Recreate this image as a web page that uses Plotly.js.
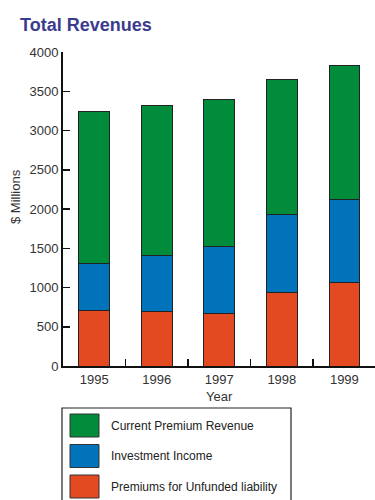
<!DOCTYPE html>
<html>
<head>
<meta charset="utf-8">
<script src="https://cdn.plot.ly/plotly-3.0.1.min.js"></script>
<style>html,body{margin:0;padding:0;background:#fff;}#chart{width:375px;height:500px;}</style>
</head>
<body>
<div id="chart"></div>
<script>
// ---- data ----
const years = ["1995", "1996", "1997", "1998", "1999"];
const unfundedLiability = [704, 700, 671, 939, 1066];
const investmentIncome = [599, 714, 849, 993, 1061];
const currentPremium = [1945, 1907, 1877, 1716, 1707];
const seriesNames = ["Premiums for Unfunded liability", "Investment Income", "Current Premium Revenue"];
const seriesColors = ["#E34A21", "#0073BB", "#008C3A"];
const yTicks = [0, 500, 1000, 1500, 2000, 2500, 3000, 3500, 4000];

// ---- geometry ----
const W = 375, H = 500;
const M = {l: 63, r: 0, t: 52, b: 134};
const pw = W - M.l - M.r, ph = H - M.t - M.b;
const px = x => (x - M.l) / pw;          // pixel x -> paper
const py = y => (H - M.b - y) / ph;      // pixel y -> paper

const font = "Liberation Sans, Arial, sans-serif";
const seriesValues = [unfundedLiability, investmentIncome, currentPremium];

const traces = seriesValues.map((vals, i) => ({
  type: "bar",
  x: years,
  y: vals,
  name: seriesNames[i],
  marker: {color: seriesColors[i], line: {color: "#222", width: 1}},
  width: 0.49,
  hoverinfo: "skip"
}));

// manual legend (top to bottom order as in reference)
const legendOrder = [2, 1, 0];
const shapes = [{
  type: "rect", xref: "paper", yref: "paper",
  x0: px(62), x1: px(291), y0: py(408), y1: py(503),
  line: {color: "#222", width: 1.2}, fillcolor: "rgba(0,0,0,0)"
}];
const annotations = [
  {xref: "paper", yref: "paper", x: 0.5, y: py(396), text: "Year", showarrow: false,
   xanchor: "center", yanchor: "middle", font: {family: font, size: 13, color: "#333"}},
  {xref: "paper", yref: "paper", x: px(15), y: py(197), text: "$ Millions", showarrow: false,
   textangle: -90, xanchor: "center", yanchor: "middle", font: {family: font, size: 13, color: "#333"}}
];
legendOrder.forEach((si, k) => {
  const top = 414 + k * 30.5;
  shapes.push({
    type: "rect", xref: "paper", yref: "paper",
    x0: px(70), x1: px(99), y0: py(top), y1: py(top + 23),
    line: {color: "#333", width: 1}, fillcolor: seriesColors[si]
  });
  annotations.push({
    xref: "paper", yref: "paper", x: px(109), y: py(top + 11.5), text: seriesNames[si],
    showarrow: false, xanchor: "left", yanchor: "middle",
    font: {family: font, size: 12, color: "#222"}
  });
});

const layout = {
  width: W, height: H,
  margin: M,
  paper_bgcolor: "#fff", plot_bgcolor: "#fff",
  barmode: "stack",
  showlegend: false,
  title: {
    text: "<b>Total Revenues</b>", xref: "container", yref: "container",
    x: 20 / W, xanchor: "left", y: 1 - 25 / H, yanchor: "middle",
    font: {family: font, size: 18, color: "#3B3B8E"}
  },
  xaxis: {
    type: "category", range: [-0.5, 4.49],
    showline: true, linecolor: "#111", linewidth: 2,
    ticks: "inside", tickson: "boundaries", ticklen: 7, tickwidth: 1.5, tickcolor: "#111",
    showgrid: false, zeroline: false,
    tickfont: {family: font, size: 13, color: "#333"}
  },
  yaxis: {
    range: [0, 4000], tickvals: yTicks, ticktext: yTicks.map(String),
    showline: true, linecolor: "#111", linewidth: 2,
    ticks: "inside", ticklen: 7, tickwidth: 1.5, tickcolor: "#111",
    showgrid: false, zeroline: false,
    tickfont: {family: font, size: 13, color: "#333"}
  },
  shapes: shapes,
  annotations: annotations
};

Plotly.newPlot("chart", traces, layout, {displayModeBar: false, staticPlot: true});
</script>
</body>
</html>
